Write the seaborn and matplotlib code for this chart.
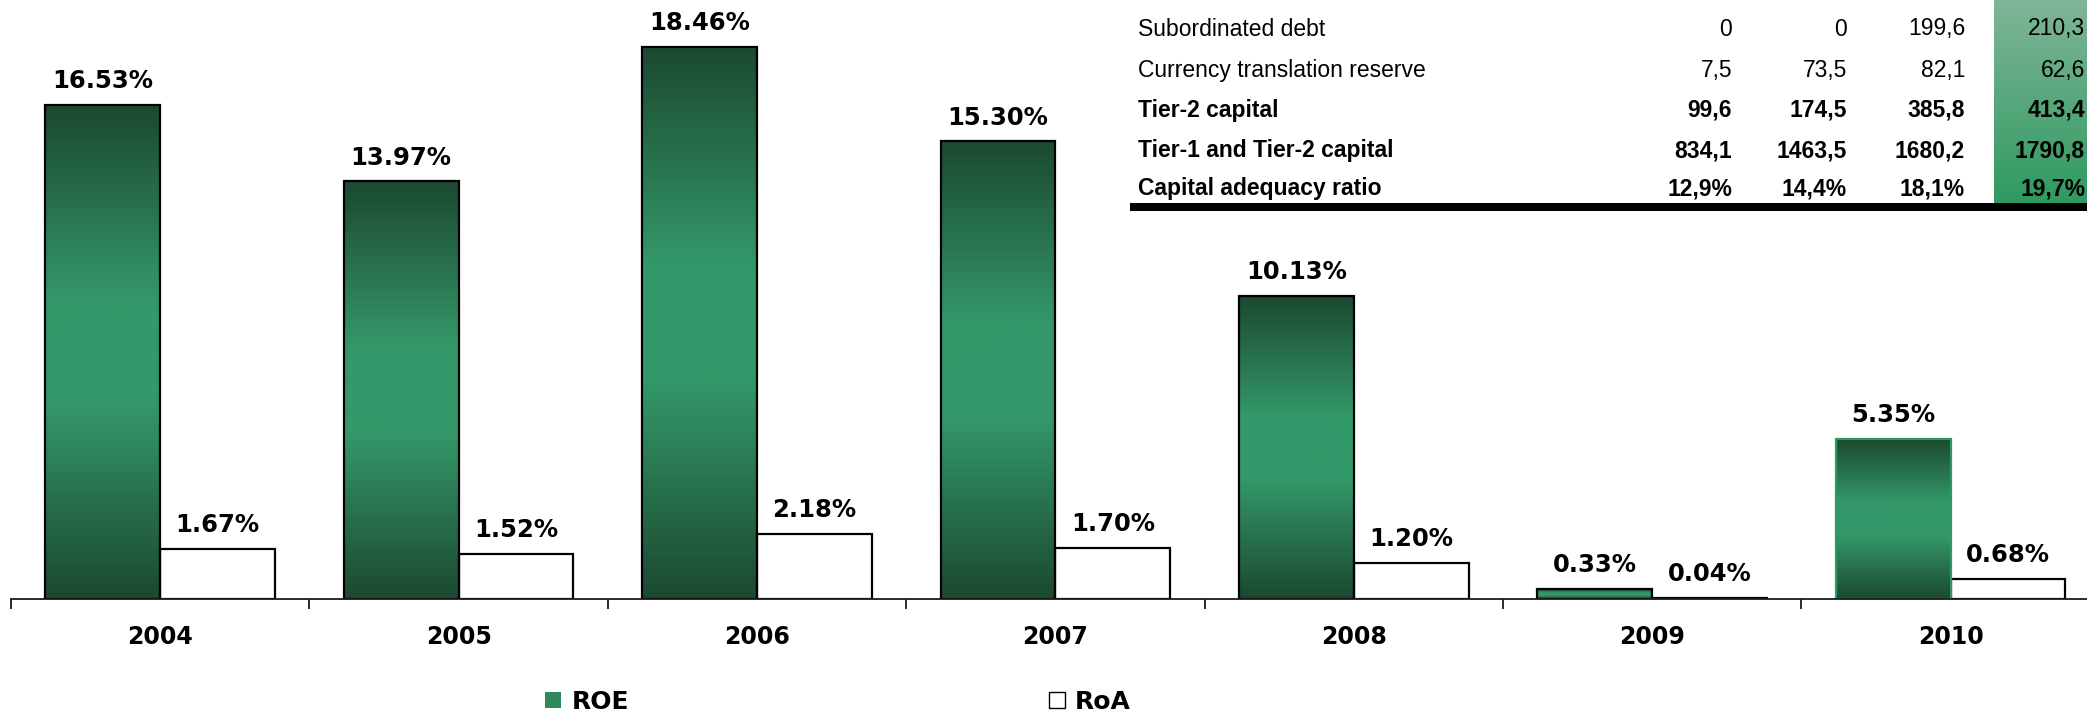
import numpy as np
import pandas as pd
import seaborn as sns
import matplotlib.pyplot as plt
from matplotlib.patches import Patch, Rectangle
from matplotlib.colors import to_rgb

# Profitability ratios by year
years = ["2004", "2005", "2006", "2007", "2008", "2009", "2010"]
roe = [16.53, 13.97, 18.46, 15.30, 10.13, 0.33, 5.35]
roa = [1.67, 1.52, 2.18, 1.70, 1.20, 0.04, 0.68]

# Capital table (last four years)
table_labels = ["Subordinated debt", "Currency translation reserve", "Tier-2 capital",
                "Tier-1 and Tier-2 capital", "Capital adequacy ratio"]
table_bold = [False, False, True, True, True]
subordinated_debt = [0, 0, 199.6, 210.3]
currency_reserve = [7.5, 73.5, 82.1, 62.6]
tier2_capital = [99.6, 174.5, 385.8, 413.4]
tier1_tier2_capital = [834.1, 1463.5, 1680.2, 1790.8]
capital_adequacy = [12.9, 14.4, 18.1, 19.7]

W, H = 2087, 711
DARK = "#1b4931"
LIGHT = "#34996a"
MID = "#2e8a5a"

sns.set_theme(style="white")
plt.rcParams["font.family"] = ["DejaVu Sans"]
plt.rcParams["text.color"] = "black"
plt.rcParams["xtick.color"] = "black"

fig = plt.figure(figsize=(W / 100, H / 100), dpi=100)
ax = fig.add_axes([11 / W, 1 - 599 / H, 7 * 298.4 / W, 599 / H])

df = pd.DataFrame({
    "Year": years * 2,
    "Ratio": roe + roa,
    "Measure": ["ROE"] * len(years) + ["RoA"] * len(years),
})
sns.barplot(data=df, x="Year", y="Ratio", hue="Measure", order=years,
            hue_order=["ROE", "RoA"], palette={"ROE": MID, "RoA": "white"},
            width=0.77, edgecolor="black", linewidth=1.6, saturation=1,
            errorbar=None, legend=False, ax=ax)

# Vertical "dark - light - dark" fill for the ROE bars
t = np.linspace(0, 1, 256)
w = np.clip(1.25 * (1 - np.abs(2 * t - 1)), 0, 1)
d, l = np.array(to_rgb(DARK)), np.array(to_rgb(LIGHT))
grad = (d[None, :] + (l - d)[None, :] * w[:, None])[:, None, :]
for bar in ax.containers[0]:
    x0, y0 = bar.get_x(), bar.get_y()
    bw, bh = bar.get_width(), bar.get_height()
    ax.imshow(grad, extent=[x0, x0 + bw, y0, y0 + bh], aspect="auto",
              interpolation="bilinear", zorder=0.9)
    bar.set_facecolor("none")
    bar.set_zorder(1.5)
ax.containers[0][-1].set_edgecolor("#2e9a5f")

# Value labels
for bars, vals in [(ax.containers[0], roe), (ax.containers[1], roa)]:
    for bar, v in zip(bars, vals):
        ax.annotate(f"{v:.2f}%", (bar.get_x() + bar.get_width() / 2, bar.get_height()),
                    xytext=(0, 12), textcoords="offset points", ha="center",
                    va="baseline", fontsize=17.5, fontweight="bold", color="black")

ax.set_xlim(-0.5, len(years) - 0.5)
ax.set_ylim(0, 20.03)
ax.set_yticks([])
ax.set_xlabel("")
ax.set_ylabel("")
for s in ["left", "right", "top"]:
    ax.spines[s].set_visible(False)
ax.spines["bottom"].set_color("#1a1a1a")
ax.spines["bottom"].set_linewidth(1.3)
ax.set_xticks(np.arange(-0.5, len(years), 1))
ax.set_xticklabels([])
ax.tick_params(axis="x", which="major", direction="out", length=7, width=1.3,
               color="#1a1a1a", bottom=True)
ax.set_xticks(range(len(years)), minor=True)
ax.set_xticklabels(years, minor=True, fontsize=17, fontweight="bold", color="black")
ax.tick_params(axis="x", which="minor", length=0, pad=19, bottom=True)


# Capital table in the upper right corner
def fx(px):
    return px / W


def fy(py):
    return 1 - py / H


col_top = np.array(to_rgb("#80b597"))
col_bot = np.array(to_rgb("#2f9a60"))
tc = np.linspace(0, 1, 256)
col_grad = (col_top[None, :] + (col_bot - col_top)[None, :] * tc[:, None])[:, None, :]
gax = fig.add_axes([fx(1994), fy(203), 1 - fx(1994) + 0.01, 203 / H], zorder=1)
gax.imshow(col_grad, aspect="auto", extent=[0, 1, 0, 1], interpolation="bilinear")
gax.axis("off")

fig.add_artist(Rectangle((fx(1130), fy(211)), 1 - fx(1130) + 0.01, 8 / H,
                         transform=fig.transFigure, facecolor="black",
                         edgecolor="none", zorder=2))


def fmt(v, pct=False):
    if v == 0:
        s = "0"
    else:
        s = f"{v:.1f}".replace(".", ",")
    return s + ("%" if pct else "")


table_values = [subordinated_debt, currency_reserve, tier2_capital,
                tier1_tier2_capital, capital_adequacy]
row_y = [29, 71, 110, 151, 189]
col_x = [1732, 1847, 1965, 2085]
for i, (lab, vals, bold) in enumerate(zip(table_labels, table_values, table_bold)):
    weight = "bold" if bold else "normal"
    pct = lab == "Capital adequacy ratio"
    fig.text(fx(1138), fy(row_y[i]), lab, ha="left", va="center", color="black",
             family="Liberation Sans", fontsize=16.5, fontweight=weight, zorder=3)
    for x, v in zip(col_x, vals):
        fig.text(fx(x), fy(row_y[i]), fmt(v, pct), ha="right", va="center", color="black",
                 family="Liberation Sans", fontsize=16.5, fontweight=weight, zorder=3)

# Legend
handles = [Patch(facecolor=MID, edgecolor="none", label="ROE"),
           Patch(facecolor="white", edgecolor="black", linewidth=1, label="RoA")]
fig.legend(handles=handles, loc="center", bbox_to_anchor=(838 / W, 1 - 702 / H),
           ncol=2, frameon=False, prop={"size": 18, "weight": "bold"},
           handlelength=0.64, handleheight=0.64, handletextpad=0.4,
           columnspacing=16.8, borderpad=0, borderaxespad=0)

fig.savefig("out.png", dpi=100)
